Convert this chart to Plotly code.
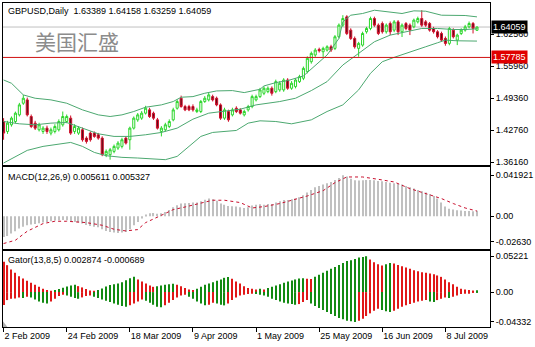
import plotly.graph_objects as go

# ---------------- data ----------------
tick_bars = [0, 16, 32, 48, 64, 80, 96, 112]
tick_labels = ["2 Feb 2009", "24 Feb 2009", "18 Mar 2009", "9 Apr 2009",
               "1 May 2009", "25 May 2009", "16 Jun 2009", "8 Jul 2009"]

opens = [1.4456,1.4250,1.4388,1.4456,1.4593,1.4833,1.4902,1.4559,1.4422,1.4285,
         1.4250,1.4319,1.4216,1.4250,1.4285,1.4388,1.4456,1.4525,1.4250,1.4216,
         1.4285,1.4113,1.4216,1.4216,1.4182,1.4113,1.3771,1.3771,1.3839,1.3908,
         1.3942,1.4113,1.4079,1.4319,1.4490,1.4525,1.4628,1.4696,1.4628,1.4490,
         1.4250,1.4285,1.4353,1.4490,1.4730,1.4936,1.4765,1.4765,1.4765,1.4662,
         1.4662,1.4868,1.4902,1.4970,1.4936,1.4799,1.4525,1.4662,1.4593,1.4730,
         1.4696,1.4593,1.4696,1.4765,1.4902,1.4970,1.5039,1.5073,1.5142,1.5073,
         1.5108,1.5108,1.5313,1.5142,1.5176,1.5279,1.5348,1.5485,1.5690,1.5828,
         1.5944,1.5896,1.5930,1.5999,1.5965,1.6205,1.6445,1.6616,1.6342,1.6170,
         1.5965,1.6033,1.6308,1.6376,1.6582,1.6445,1.6479,1.6308,1.6479,1.6342,
         1.6513,1.6308,1.6479,1.6445,1.6410,1.6513,1.6582,1.6513,1.6479,1.6376,
         1.6308,1.6273,1.6170,1.6068,1.6342,1.6136,1.6273,1.6342,1.6410,1.6479,
         1.63389]
highs = [1.4525,1.4470,1.4560,1.4660,1.4840,1.5005,1.4950,1.4600,1.4470,1.4430,
         1.4360,1.4370,1.4330,1.4400,1.4500,1.4662,1.4600,1.4580,1.4400,1.4360,
         1.4330,1.4150,1.4250,1.4250,1.4220,1.4150,1.3880,1.3910,1.3980,1.4050,
         1.4120,1.4150,1.4350,1.4560,1.4630,1.4670,1.4780,1.4740,1.4660,1.4530,
         1.4360,1.4430,1.4500,1.4740,1.4910,1.4990,1.4800,1.4800,1.4810,1.4740,
         1.4900,1.4980,1.5050,1.5010,1.4970,1.4830,1.4740,1.4700,1.4740,1.4770,
         1.4730,1.4700,1.4800,1.5010,1.5010,1.5150,1.5180,1.5180,1.5180,1.5320,
         1.5290,1.5350,1.5350,1.5290,1.5350,1.5420,1.5590,1.5800,1.5900,1.5970,
         1.5980,1.6000,1.6030,1.6040,1.6240,1.6480,1.6650,1.6650,1.6380,1.6210,
         1.6100,1.6310,1.6410,1.6620,1.6620,1.6480,1.6520,1.6480,1.6520,1.6550,
         1.6550,1.6480,1.6510,1.6480,1.6580,1.6620,1.6753,1.6550,1.6510,1.6410,
         1.6340,1.6310,1.6210,1.6410,1.6380,1.6270,1.6380,1.6450,1.6520,1.6510,
         1.64158]
lows = [1.4079,1.4200,1.4350,1.4420,1.4560,1.4800,1.4560,1.4320,1.4280,1.4250,
        1.4200,1.4200,1.4170,1.4210,1.4250,1.4350,1.4420,1.4180,1.4200,1.4180,
        1.4040,1.4000,1.4040,1.4120,1.4080,1.3740,1.3720,1.3668,1.3800,1.3870,
        1.3900,1.3980,1.3873,1.4290,1.4450,1.4490,1.4600,1.4530,1.4490,1.4290,
        1.4148,1.4250,1.4320,1.4460,1.4700,1.4740,1.4670,1.4670,1.4660,1.4630,
        1.4630,1.4840,1.4870,1.4870,1.4770,1.4490,1.4490,1.4450,1.4560,1.4630,
        1.4600,1.4560,1.4660,1.4730,1.4870,1.4940,1.5000,1.5040,1.4990,1.5040,
        1.5070,1.5070,1.5110,1.5110,1.5140,1.5250,1.5310,1.5450,1.5650,1.5790,
        1.5880,1.5790,1.5900,1.5890,1.5930,1.6170,1.6410,1.6240,1.6140,1.5960,
        1.5793,1.6000,1.6270,1.6340,1.6410,1.6240,1.6270,1.6270,1.6240,1.6300,
        1.6240,1.6200,1.6340,1.6240,1.6380,1.6480,1.6410,1.6410,1.6310,1.6270,
        1.6170,1.6100,1.6020,1.6030,1.6170,1.6033,1.6240,1.6310,1.6380,1.6273,
        1.63259]
closes = [1.4216,1.4422,1.4525,1.4628,1.4799,1.4936,1.4593,1.4353,1.4319,1.4388,
          1.4319,1.4250,1.4285,1.4353,1.4456,1.4559,1.4559,1.4216,1.4353,1.4319,
          1.4079,1.4045,1.4079,1.4148,1.4113,1.3771,1.3839,1.3873,1.3942,1.4010,
          1.4079,1.4010,1.4319,1.4525,1.4593,1.4628,1.4730,1.4559,1.4525,1.4319,
          1.4319,1.4388,1.4456,1.4696,1.4868,1.4765,1.4696,1.4696,1.4696,1.4696,
          1.4868,1.4936,1.5005,1.4902,1.4799,1.4525,1.4696,1.4490,1.4696,1.4662,
          1.4628,1.4662,1.4765,1.4970,1.4970,1.5108,1.5142,1.5142,1.5039,1.5279,
          1.5245,1.5313,1.5142,1.5245,1.5313,1.5382,1.5553,1.5759,1.5862,1.5930,
          1.5917,1.5965,1.5999,1.5930,1.6205,1.6445,1.6582,1.6273,1.6170,1.5999,
          1.6068,1.6273,1.6376,1.6582,1.6445,1.6273,1.6308,1.6445,1.6308,1.6513,
          1.6308,1.6445,1.6376,1.6342,1.6548,1.6582,1.6445,1.6445,1.6342,1.6308,
          1.6205,1.6136,1.6068,1.6376,1.6205,1.6239,1.6342,1.6410,1.6479,1.6376,
          1.64059]

bb_up_x = [0,2,5,8,12,16,20,24,27,30,33,36,40,43,45,48,51,54,58,61,65,66,69,72,76,79,82,85,86,88,91,94,97,101,104,107,111,114,117,120]
bb_up = [1.5313,1.5245,1.5005,1.4936,1.4902,1.4833,1.4696,1.4593,1.4559,1.4593,1.4662,1.4751,1.4799,1.4868,1.4957,1.4970,1.5039,1.5087,1.5094,1.5053,1.5121,1.5190,1.5258,1.5300,1.5396,1.5622,1.5828,1.6170,1.6513,1.6650,1.6685,1.6753,1.6719,1.6685,1.6740,1.6733,1.6650,1.6644,1.6644,1.6616]
bb_mid_x = [0,4,8,12,16,20,24,28,32,36,40,44,48,52,56,60,64,66,70,74,78,82,86,90,94,98,102,106,110,114,117,120]
bb_mid = [1.4456,1.4408,1.4388,1.4422,1.4435,1.4319,1.4202,1.4148,1.4148,1.4182,1.4230,1.4319,1.4504,1.4628,1.4669,1.4710,1.4799,1.4820,1.4868,1.4936,1.5094,1.5279,1.5622,1.5862,1.6102,1.6239,1.6308,1.6376,1.6376,1.6355,1.6355,1.6369]
bb_lo_x = [0,3,6,10,14,17,20,23,26,30,34,38,41,44,47,50,53,56,59,62,65,69,73,78,82,86,90,93,96,99,103,107,110,112,115,120]
bb_lo = [1.3599,1.3736,1.3860,1.3942,1.3997,1.4024,1.3942,1.3818,1.3750,1.3716,1.3702,1.3681,1.3668,1.3736,1.3942,1.4148,1.4230,1.4244,1.4271,1.4422,1.4470,1.4456,1.4408,1.4490,1.4662,1.4799,1.5108,1.5450,1.5690,1.5780,1.5896,1.5999,1.6081,1.6136,1.6122,1.6116]

macd_hist = [-0.0211,-0.0201,-0.0177,-0.0153,-0.0126,-0.0106,-0.0092,-0.0085,-0.0078,-0.0072,
             -0.0065,-0.0058,-0.0051,-0.0044,-0.0041,-0.0037,-0.0041,-0.0051,-0.0058,-0.0065,
             -0.0075,-0.0089,-0.0099,-0.0106,-0.0112,-0.0133,-0.0150,-0.0160,-0.0167,-0.0170,
             -0.0167,-0.0160,-0.0133,-0.0092,-0.0058,-0.0024,0.0017,0.0031,0.0034,0.0027,
             0.0031,0.0044,0.0065,0.0092,0.0112,0.0130,0.0133,0.0136,0.0140,0.0140,
             0.0153,0.0170,0.0181,0.0174,0.0160,0.0130,0.0119,0.0106,0.0102,0.0099,
             0.0092,0.0085,0.0092,0.0109,0.0119,0.0123,0.0119,0.0126,0.0126,0.0140,
             0.0153,0.0167,0.0167,0.0174,0.0181,0.0194,0.0215,0.0242,0.0269,0.0296,
             0.0310,0.0324,0.0337,0.0351,0.0371,0.0392,0.0419,0.0406,0.0385,0.0368,
             0.0365,0.0368,0.0371,0.0371,0.0368,0.0361,0.0358,0.0351,0.0344,0.0337,
             0.0331,0.0324,0.0310,0.0296,0.0283,0.0269,0.0256,0.0242,0.0228,0.0208,
             0.0181,0.0140,0.0099,0.0078,0.0068,0.0061,0.0058,0.0055,0.0055,0.0051,
             0.005611]
sig_x = [0,3,6,10,13,16,21,25,28,31,34,36,40,43,46,50,53,56,60,63,66,70,74,77,81,84,87,91,95,99,103,107,111,114,117,120]
sig = [-0.0279,-0.0245,-0.0153,-0.0075,-0.0051,-0.0051,-0.0065,-0.0092,-0.0133,-0.0150,-0.0136,-0.0065,0.0010,0.0068,0.0095,0.0130,0.0164,0.0164,0.0140,0.0085,0.0099,0.0130,0.0174,0.0208,0.0262,0.0344,0.0402,0.0402,0.0378,0.0351,0.0283,0.0232,0.0181,0.0130,0.0085,0.005327]

gator_up = [0.0440,0.0392,0.0329,0.0280,0.0232,0.0198,0.0164,0.0135,0.0106,0.0077,
            0.0048,0.0029,0.0019,0.0029,0.0044,0.0063,0.0082,0.0097,0.0106,0.0087,
            0.0068,0.0044,0.0024,0.0015,0.0029,0.0053,0.0082,0.0102,0.0116,0.0126,
            0.0145,0.0174,0.0203,0.0222,0.0184,0.0155,0.0126,0.0097,0.0077,0.0087,
            0.0097,0.0106,0.0116,0.0121,0.0106,0.0087,0.0058,0.0039,0.0029,0.0048,
            0.0077,0.0106,0.0126,0.0145,0.0164,0.0184,0.0208,0.0218,0.0193,0.0155,
            0.0126,0.0087,0.0058,0.0048,0.0039,0.0048,0.0039,
            0.0058,0.0077,0.0097,0.0116,0.0135,0.0155,0.0169,0.0184,0.0198,0.0203,
            0.0193,0.0189,0.0222,0.0251,0.0280,0.0309,0.0338,0.0367,0.0396,0.0425,
            0.0454,0.0464,0.0483,0.0503,0.0512,0.0522,0.0474,0.0435,0.0406,0.0387,
            0.0406,0.0425,0.0416,0.0396,0.0377,0.0358,0.0338,0.0319,0.0305,0.0290,
            0.0280,0.0271,0.0261,0.0242,0.0222,0.0184,0.0145,0.0116,0.0077,0.0048,
            0.0039,0.0029,0.0024,0.002874]
gator_dn = [-0.0189,-0.0116,-0.0097,-0.0092,-0.0077,-0.0087,-0.0068,-0.0077,-0.0106,-0.0135,
            -0.0155,-0.0164,-0.0135,-0.0097,-0.0058,-0.0039,-0.0048,-0.0068,-0.0087,-0.0097,
            -0.0077,-0.0058,-0.0048,-0.0068,-0.0087,-0.0106,-0.0126,-0.0145,-0.0164,-0.0184,
            -0.0203,-0.0213,-0.0193,-0.0164,-0.0135,-0.0106,-0.0126,-0.0155,-0.0184,-0.0213,
            -0.0222,-0.0193,-0.0155,-0.0116,-0.0077,-0.0048,-0.0039,-0.0068,-0.0097,-0.0135,
            -0.0164,-0.0193,-0.0184,-0.0155,-0.0164,-0.0184,-0.0193,-0.0164,-0.0116,-0.0077,
            -0.0048,-0.0039,-0.0029,-0.0024,-0.0029,-0.0039,-0.0048,
            -0.0068,-0.0097,-0.0116,-0.0135,-0.0155,-0.0164,-0.0174,-0.0184,-0.0174,-0.0145,
            -0.0116,-0.0164,-0.0203,-0.0232,-0.0261,-0.0290,-0.0319,-0.0348,-0.0377,-0.0396,
            -0.0416,-0.0425,-0.0435,-0.0416,-0.0387,-0.0348,-0.0309,-0.0271,-0.0242,-0.0261,
            -0.0280,-0.0290,-0.0271,-0.0242,-0.0213,-0.0193,-0.0174,-0.0155,-0.0135,-0.0126,
            -0.0116,-0.0135,-0.0145,-0.0116,-0.0097,-0.0077,-0.0087,-0.0068,-0.0048,-0.0029,
            -0.0019,-0.0010,-0.0005,-0.000689]

bid_price = 1.64059
hline_price = 1.57785
main_ticks = [1.62560, 1.55960, 1.49360, 1.42760, 1.36160]
macd_ticks = [0.041921, 0.0, -0.02630]
macd_tick_text = ["0.041921", "0.00", "-0.02630"]
gator_ticks = [0.05221, 0.0, -0.04332]
gator_tick_text = ["0.05221", "0.00", "-0.04332"]

# ---------------- styling ----------------
FONT = "Liberation Sans"
BB_COLOR = "#4CA870"
GREEN_G = "#128A12"
RED_G = "#E01818"

x = list(range(len(opens)))
xr = [-0.15, 123.3]

up_colors = [RED_G] + [GREEN_G if gator_up[i] >= gator_up[i-1] else RED_G for i in range(1, len(gator_up))]
dn_colors = [RED_G] + [GREEN_G if abs(gator_dn[i]) >= abs(gator_dn[i-1]) else RED_G for i in range(1, len(gator_dn))]

fig = go.Figure()

fig.add_trace(go.Candlestick(
    x=x, open=opens, high=highs, low=lows, close=closes,
    increasing=dict(line=dict(color="#2BD62B", width=1), fillcolor="#FFFFFF"),
    decreasing=dict(line=dict(color="#D0102A", width=1), fillcolor="#5A0A18"),
    whiskerwidth=0, xaxis="x", yaxis="y", showlegend=False, hoverinfo="skip"))

for bx, by in [(bb_up_x, bb_up), (bb_mid_x, bb_mid), (bb_lo_x, bb_lo)]:
    fig.add_trace(go.Scatter(x=bx, y=by, mode="lines", line=dict(color=BB_COLOR, width=1),
                             xaxis="x", yaxis="y", showlegend=False, hoverinfo="skip"))

fig.add_trace(go.Bar(x=x, y=macd_hist, width=0.28, marker=dict(color="#C0C0C0", line=dict(width=0)),
                     xaxis="x2", yaxis="y2", showlegend=False, hoverinfo="skip"))
fig.add_trace(go.Scatter(x=sig_x, y=sig, mode="lines", line=dict(color="#C8102E", width=1, dash="3px,3px"),
                         xaxis="x2", yaxis="y2", showlegend=False, hoverinfo="skip"))

fig.add_trace(go.Bar(x=x, y=gator_up, width=0.28, marker=dict(color=up_colors, line=dict(width=0)),
                     xaxis="x3", yaxis="y3", showlegend=False, hoverinfo="skip"))
fig.add_trace(go.Bar(x=x, y=gator_dn, width=0.28, marker=dict(color=dn_colors, line=dict(width=0)),
                     xaxis="x3", yaxis="y3", showlegend=False, hoverinfo="skip"))

axis_common = dict(showline=True, mirror=True, linecolor="black", linewidth=1,
                   showgrid=False, zeroline=False)
tickfont = dict(family=FONT, size=9, color="black")

fig.update_layout(
    width=535, height=347,
    margin=dict(l=2, r=42, t=2, b=20),
    paper_bgcolor="white", plot_bgcolor="white",
    barmode="overlay", boxgap=0.25,
    showlegend=False,
    xaxis=dict(domain=[0, 1], range=xr, anchor="y", showticklabels=False, ticks="",
               rangeslider=dict(visible=False), **axis_common),
    xaxis2=dict(domain=[0, 1], range=xr, anchor="y2", showticklabels=False, ticks="", **axis_common),
    xaxis3=dict(domain=[0, 1], range=xr, anchor="y3", tickmode="array", tickvals=tick_bars,
                ticktext=tick_labels, ticks="outside", ticklen=4, tickcolor="black",
                ticklabelposition="outside right", tickfont=tickfont, **axis_common),
    yaxis=dict(domain=[0.4985, 1], range=[1.3548, 1.6902], anchor="x", side="right",
               tickmode="array", tickvals=main_ticks, ticktext=[f"{v:.5f}" for v in main_ticks],
               ticks="outside", ticklen=3, tickcolor="black", tickfont=tickfont, **axis_common),
    yaxis2=dict(domain=[0.2415, 0.4923], range=[-0.03323, 0.0499], anchor="x2", side="right",
                tickmode="array", tickvals=macd_ticks, ticktext=macd_tick_text,
                ticks="outside", ticklen=3, tickcolor="black", tickfont=tickfont, **axis_common),
    yaxis3=dict(domain=[0, 0.2354], range=[-0.05076, 0.06019], anchor="x3", side="right",
                tickmode="array", tickvals=gator_ticks, ticktext=gator_tick_text,
                ticks="outside", ticklen=3, tickcolor="black", tickfont=tickfont, **axis_common),
)

fig.add_shape(type="line", xref="x domain", yref="y", x0=0, x1=1, y0=bid_price, y1=bid_price,
              line=dict(color="#C0C0C0", width=1), layer="below")
fig.add_shape(type="line", xref="x domain", yref="y", x0=0, x1=1, y0=hline_price, y1=hline_price,
              line=dict(color="#D01010", width=1))
# small grey chart-shift marker in the bottom-left corner
fig.add_shape(type="path", xref="x3 domain", yref="y3 domain",
              path="M 0,0 L 0,0.075 L 0.009,0 Z", fillcolor="#B0B0B0", line=dict(width=0))

anns = [
    dict(text="GBPUSD,Daily  1.63389 1.64158 1.63259 1.64059", xref="x domain", yref="y domain",
         x=0, y=1, xanchor="left", yanchor="top", xshift=3, yshift=-1, font=dict(family=FONT, size=9, color="black")),
    dict(text="美国汇盛", xref="x domain", yref="y domain", x=0.061, y=0.767, xanchor="left", yanchor="middle",
         font=dict(family="Noto Sans CJK SC", size=21, color="#8C8C8C")),
    dict(text="MACD(12,26,9) 0.005611 0.005327", xref="x2 domain", yref="y2 domain",
         x=0, y=1, xanchor="left", yanchor="top", xshift=3, yshift=-3, font=dict(family=FONT, size=9, color="black")),
    dict(text="Gator(13,8,5) 0.002874 -0.000689", xref="x3 domain", yref="y3 domain",
         x=0, y=1, xanchor="left", yanchor="top", xshift=3, yshift=-2, font=dict(family=FONT, size=9, color="black")),
    dict(text=f"{bid_price:.5f}", xref="paper", yref="y", x=1, y=bid_price, xanchor="left", yanchor="middle",
         xshift=1, bgcolor="black", borderpad=1, font=dict(family=FONT, size=9, color="white")),
    dict(text=f"{hline_price:.5f}", xref="paper", yref="y", x=1, y=hline_price, xanchor="left", yanchor="middle",
         xshift=1, bgcolor="#E00000", borderpad=1, font=dict(family=FONT, size=9, color="white")),
]
for a in anns:
    a["showarrow"] = False
    fig.add_annotation(**a)

fig.write_html("out.html")
